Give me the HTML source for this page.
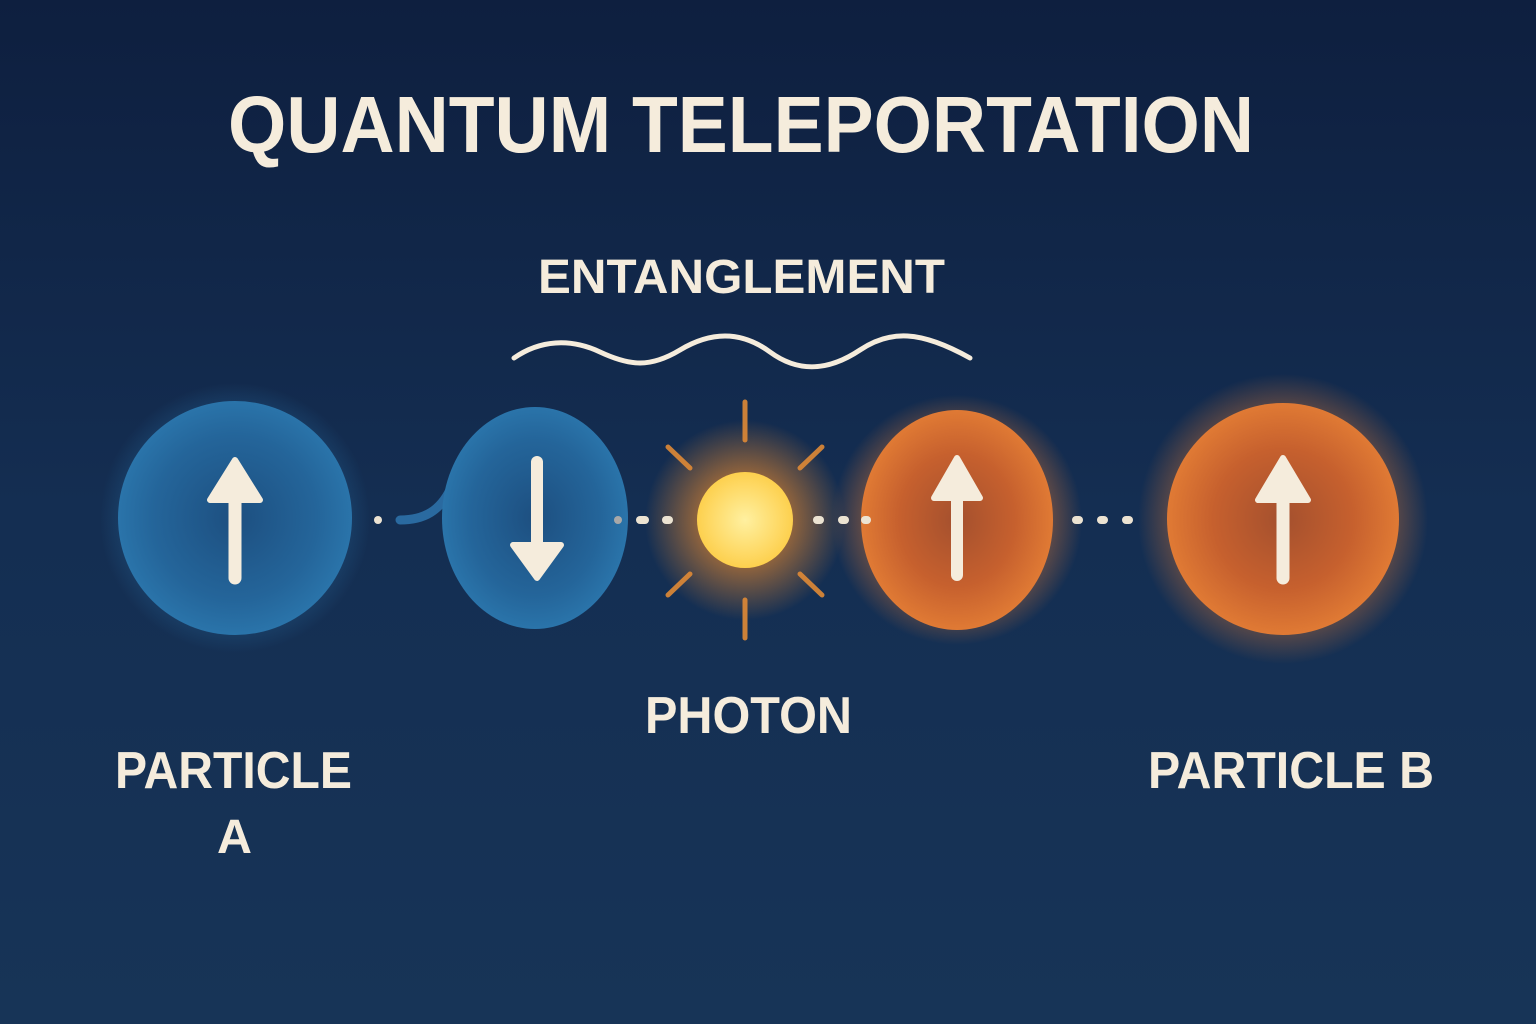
<!DOCTYPE html>
<html><head><meta charset="utf-8"><style>html,body{margin:0;padding:0;width:1536px;height:1024px;overflow:hidden;background:#122a4d}</style></head>
<body>
<svg width="1536" height="1024" viewBox="0 0 1536 1024" xmlns="http://www.w3.org/2000/svg">
<defs>
<linearGradient id="bg" x1="0" y1="0" x2="0" y2="1">
<stop offset="0" stop-color="#0e1f3f"/><stop offset="0.5" stop-color="#142e52"/><stop offset="1" stop-color="#173457"/>
</linearGradient>
<radialGradient id="blue" cx="0.5" cy="0.5" r="0.5">
<stop offset="0" stop-color="#1d4f80"/><stop offset="0.7" stop-color="#24659a"/><stop offset="1" stop-color="#2a74aa"/>
</radialGradient>
<radialGradient id="orange" cx="0.5" cy="0.5" r="0.5">
<stop offset="0" stop-color="#a4502e"/><stop offset="0.6" stop-color="#c6602e"/><stop offset="1" stop-color="#e07a34"/>
</radialGradient>
<radialGradient id="sunglow" cx="0.5" cy="0.5" r="0.5">
<stop offset="0" stop-color="#f7a43a" stop-opacity="0.95"/><stop offset="0.45" stop-color="#e98a2e" stop-opacity="0.6"/><stop offset="1" stop-color="#e98a2e" stop-opacity="0"/>
</radialGradient>
<radialGradient id="sun" cx="0.5" cy="0.5" r="0.5">
<stop offset="0" stop-color="#fff0a0"/><stop offset="1" stop-color="#fdd04e"/>
</radialGradient>
<radialGradient id="oglow" cx="0.5" cy="0.5" r="0.5">
<stop offset="0.7" stop-color="#e07a34" stop-opacity="0.45"/><stop offset="1" stop-color="#e07a34" stop-opacity="0"/>
</radialGradient>
<radialGradient id="bglow" cx="0.5" cy="0.5" r="0.5">
<stop offset="0.7" stop-color="#2a74aa" stop-opacity="0.4"/><stop offset="1" stop-color="#2a74aa" stop-opacity="0"/>
</radialGradient>
</defs>
<rect width="1536" height="1024" fill="url(#bg)"/>

<g font-family="Liberation Sans, sans-serif" font-weight="bold" fill="#f5ecdc">
<text x="228" y="152" font-size="80" textLength="1026" lengthAdjust="spacingAndGlyphs">QUANTUM TELEPORTATION</text>
<text x="538" y="293" font-size="48" textLength="407" lengthAdjust="spacingAndGlyphs">ENTANGLEMENT</text>
<text x="645" y="733" font-size="52" textLength="207" lengthAdjust="spacingAndGlyphs">PHOTON</text>
<text x="115" y="788" font-size="52" textLength="237" lengthAdjust="spacingAndGlyphs">PARTICLE</text>
<text x="217" y="853" font-size="48" textLength="35" lengthAdjust="spacingAndGlyphs">A</text>
<text x="1148" y="788" font-size="52" textLength="286" lengthAdjust="spacingAndGlyphs">PARTICLE B</text>
</g>

<path d="M514 358 C540 340,570 338,600 352 S650 368,680 350 S740 330,770 352 S830 370,860 350 S920 330,970 358" fill="none" stroke="#f5ecdc" stroke-width="5" stroke-linecap="round"/>

<!-- glows -->
<circle cx="235" cy="518" r="135" fill="url(#bglow)"/>
<circle cx="1283" cy="519" r="145" fill="url(#oglow)"/>
<circle cx="957" cy="520" r="125" fill="url(#oglow)"/>

<!-- particle A -->
<circle cx="235" cy="518" r="117" fill="url(#blue)"/>
<!-- tail -->
<path d="M400 520 C425 520,440 510,450 490" fill="none" stroke="#2a6aa0" stroke-width="9" stroke-linecap="round"/>
<ellipse cx="535" cy="518" rx="93" ry="111" fill="url(#blue)"/>
<!-- photon -->
<circle cx="745" cy="520" r="100" fill="url(#sunglow)"/>
<g stroke="#e08a36" stroke-width="5" stroke-linecap="round" opacity="0.9">
<line x1="745" y1="402" x2="745" y2="440"/><line x1="745" y1="600" x2="745" y2="638"/>
<line x1="668" y1="447" x2="690" y2="468"/><line x1="800" y1="468" x2="822" y2="447"/>
<line x1="668" y1="595" x2="690" y2="574"/><line x1="800" y1="574" x2="822" y2="595"/>
</g>
<circle cx="745" cy="520" r="48" fill="url(#sun)"/>
<ellipse cx="957" cy="520" rx="96" ry="110" fill="url(#orange)"/>
<circle cx="1283" cy="519" r="116" fill="url(#orange)"/>

<!-- dots -->
<g fill="#ece3d2">
<circle cx="378" cy="520" r="4"/>
<circle cx="618" cy="520" r="4" fill="#a8a8a8"/>
<rect x="636" y="516" width="13" height="8" rx="4"/>
<rect x="662" y="516" width="11" height="8" rx="4"/>
<rect x="813" y="516" width="11" height="8" rx="4"/>
<rect x="838" y="516" width="11" height="8" rx="4"/>
<rect x="861" y="516" width="10" height="8" rx="4"/>
<rect x="1072" y="516" width="11" height="8" rx="4"/>
<rect x="1097" y="516" width="11" height="8" rx="4"/>
<rect x="1122" y="516" width="11" height="8" rx="4"/>
</g>

<!-- arrows -->
<g fill="#f5ecdc" stroke="#f5ecdc" stroke-linejoin="round" stroke-linecap="round">
<line x1="235" y1="496" x2="235" y2="578" stroke-width="13"/>
<polygon points="235,460 210,500 260,500" stroke-width="6"/>
<line x1="537" y1="462" x2="537" y2="545" stroke-width="12"/>
<polygon points="537,578 513,545 561,545" stroke-width="6"/>
<line x1="957" y1="496" x2="957" y2="575" stroke-width="12"/>
<polygon points="957,458 934,498 980,498" stroke-width="6"/>
<line x1="1283" y1="496" x2="1283" y2="578" stroke-width="13"/>
<polygon points="1283,458 1258,500 1308,500" stroke-width="6"/>
</g>
</svg>
</body></html>
